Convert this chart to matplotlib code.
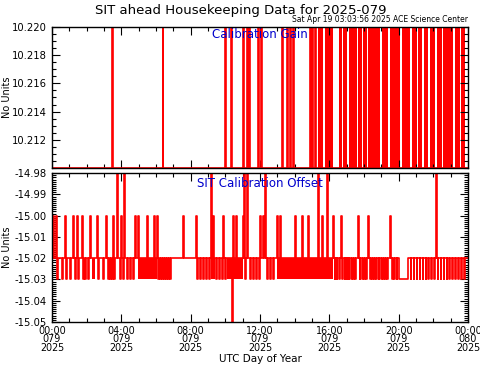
import matplotlib
matplotlib.use('Agg')
import matplotlib.pyplot as plt
from matplotlib.ticker import MultipleLocator, FormatStrFormatter

# Hours of day 079 (UTC)
GAIN_LOW = 10.2100
GAIN_HIGH = 10.2206
# isolated one-sample jumps of the calibration gain
gain_spikes = [3.46, 6.39, 9.98, 10.33, 11.02, 11.25, 11.37, 11.88, 12.06,
               13.27, 13.56, 13.73, 13.90, 14.88, 15.00, 15.17]
# periods of rapid toggling (start, end)
gain_blocks = [(15.33, 15.66), (15.73, 16.23), (16.58, 16.75), (16.78, 17.04),
               (17.16, 17.62), (17.65, 17.90), (17.93, 18.19), (18.22, 18.95),
               (19.02, 19.40), (19.48, 20.10), (20.17, 20.67), (20.75, 21.08),
               (21.11, 21.37), (21.44, 21.71), (21.79, 22.12), (22.19, 22.52),
               (22.55, 23.15), (23.23, 23.56), (23.59, 23.80)]

OFF_BASE = -15.02
off_up = [0.06, 0.23, 0.75, 1.21, 1.44, 1.73, 2.19, 2.60, 3.12, 3.52, 3.98,
          4.79, 4.96, 5.48, 5.88, 6.06, 7.56, 8.31, 9.29, 9.87, 10.44, 10.62,
          11.02, 12.00, 12.17, 12.98, 13.15, 14.02, 14.42, 14.77, 15.58, 16.21,
          16.67, 17.65, 18.23, 19.50]
off_top = [3.75, 4.15, 9.17, 11.08, 11.25, 12.29, 15.35, 15.87, 22.15]
off_min = [10.38]
off_dips = [0.29, 0.58, 0.81, 1.04, 1.33, 1.50, 1.80, 1.90, 2.08, 2.65, 2.94,
            3.23, 3.35, 3.46, 3.58, 3.92, 4.10, 4.33, 4.50, 4.67, 6.12, 6.23,
            6.35, 6.46, 6.58, 6.69, 6.81, 8.37, 8.54, 8.71, 8.88, 9.06, 9.46,
            9.63, 9.81, 9.98, 11.13, 11.42, 11.60, 11.77, 11.94, 12.40, 12.58,
            12.75, 16.30, 16.42, 16.55, 16.75, 16.88, 17.00, 17.12, 17.25,
            17.38, 17.50, 17.75, 17.88, 18.00, 18.12, 18.35, 18.48, 18.60,
            18.72, 18.85, 18.98, 19.10, 19.22, 19.35, 19.62, 19.75, 19.88,
            20.70, 20.87, 21.04, 21.21, 21.38, 21.55, 21.72, 21.89, 22.06,
            22.25, 22.42, 22.59, 22.76, 22.93, 23.10, 23.27, 23.44, 23.61, 23.78]
off_hold = [(20.00, 20.55)]
off_blocks = [(2.31, 2.48), (4.96, 6.06), (9.17, 9.40), (10.10, 11.02), (12.98, 16.21)]

x_ticks = [0, 4, 8, 12, 16, 20, 24]
x_labels = ['00:00\n079\n2025', '04:00\n079\n2025', '08:00\n079\n2025',
            '12:00\n079\n2025', '16:00\n079\n2025', '20:00\n079\n2025',
            '00:00\n080\n2025']

DUR = 0.04


def build(base, events):
    events = sorted(events)
    t, v = [0.0], [base]
    for s, e, lvl in events:
        t += [s, e]
        v += [lvl, base]
    t.append(24.0)
    v.append(base)
    return t, v


plt.rcParams['font.family'] = 'DejaVu Sans'
fig = plt.figure(figsize=(4.81, 3.70), dpi=100)
ax1 = fig.add_axes([0.108, 0.546, 0.865, 0.381])
ax2 = fig.add_axes([0.108, 0.130, 0.865, 0.402])

red = '#ff0000'

# top panel
ev = [(s, s + DUR, GAIN_HIGH) for s in gain_spikes]
t, v = build(GAIN_LOW, ev)
ax1.plot(t, v, drawstyle='steps-post', color=red, lw=1.2)
for s, e in gain_blocks:
    ax1.fill_between([s, e], GAIN_LOW, GAIN_HIGH, color=red, lw=0)
ax1.set_ylim(10.2100, 10.2200)
ax1.set_yticks([10.212, 10.214, 10.216, 10.218, 10.220])
ax1.yaxis.set_major_formatter(FormatStrFormatter('%.3f'))
ax1.yaxis.set_minor_locator(MultipleLocator(0.0005))
ax1.text(0.5, 0.95, 'Calibration Gain', transform=ax1.transAxes,
         ha='center', va='center', color='#0000cc', fontsize=8.5)

# bottom panel
ev = ([(s, s + DUR, -15.00) for s in off_up] +
      [(s, s + DUR, -14.975) for s in off_top] +
      [(s, s + DUR, -15.055) for s in off_min] +
      [(s, s + DUR, -15.03) for s in off_dips] +
      [(s, e, -15.03) for s, e in off_hold])
t, v = build(OFF_BASE, ev)
ax2.plot(t, v, drawstyle='steps-post', color=red, lw=1.2)
for s, e in off_blocks:
    ax2.fill_between([s, e], -15.03, OFF_BASE, color=red, lw=0)
ax2.set_ylim(-15.05, -14.98)
ax2.yaxis.set_major_locator(MultipleLocator(0.01))
ax2.yaxis.set_major_formatter(FormatStrFormatter('%.2f'))
ax2.yaxis.set_minor_locator(MultipleLocator(0.001))
ax2.text(0.5, 0.93, 'SIT Calibration Offset', transform=ax2.transAxes,
         ha='center', va='center', color='#0000cc', fontsize=8.5)

for ax in (ax1, ax2):
    ax.set_xlim(0, 24)
    ax.set_xticks(x_ticks)
    ax.xaxis.set_minor_locator(MultipleLocator(1))
    ax.tick_params(which='both', direction='in', top=True, right=True,
                   labelsize=7.2, width=0.8, color='black')
    ax.tick_params(which='major', length=6)
    ax.tick_params(which='minor', length=3)
    ax.set_ylabel('No Units', fontsize=7)
    ax.yaxis.set_label_coords(-0.095, 0.5)
    for sp in ax.spines.values():
        sp.set_linewidth(1.0)
ax1.set_xticklabels([])
ax2.set_xticklabels(x_labels, linespacing=0.78)
ax2.tick_params(axis='x', pad=3, labelsize=6.9)
ax2.set_xlabel('UTC Day of Year', fontsize=7.5, labelpad=1)

fig.text(0.5, 0.972, 'SIT ahead Housekeeping Data for 2025-079',
         ha='center', va='center', fontsize=9.5)
fig.text(0.973, 0.946, 'Sat Apr 19 03:03:56 2025 ACE Science Center',
         ha='right', va='center', fontsize=5.5)

fig.savefig('out.png', dpi=100)
